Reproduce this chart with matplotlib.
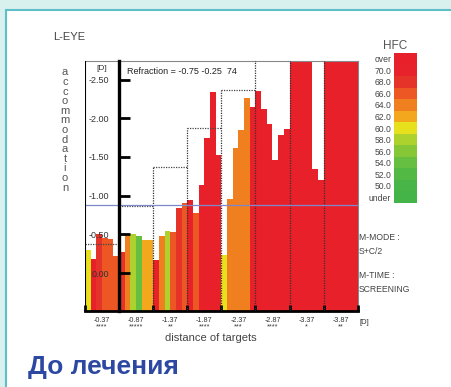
import matplotlib
matplotlib.use('Agg')
import matplotlib.pyplot as plt
import numpy as np
from matplotlib.colors import ListedColormap, BoundaryNorm
from matplotlib.patches import Rectangle
import matplotlib.colorbar as mcolorbar

plt.rcParams['font.family'] = ['Liberation Sans', 'DejaVu Sans']

# ---------------- data ----------------
target_labels = ['-0.37', '-0.87', '-1.37', '-1.87', '-2.37', '-2.87', '-3.37', '-3.87']
target_stars = ['****', '*****', '**', '****', '***', '****', '*', '**']
targets = [0.37, 0.87, 1.37, 1.87, 2.37, 2.87, 3.37, 3.87]
refraction_se = 0.875

# accommodation (D, shown as negative values) - 6 measurements per target
acc_g1 = [0.30, 0.18, 0.51, 0.45, 0.44, 0.22]
acc_g2 = [0.27, 0.51, 0.51, 0.48, 0.43, 0.43]
acc_g3 = [0.17, 0.48, 0.55, 0.53, 0.84, 0.90]
acc_g4 = [0.94, 0.77, 1.14, 1.75, 2.34, 1.52]
acc_g5 = [0.23, 0.96, 1.61, 1.85, 2.26, 2.14]
acc_g6 = [2.35, 2.12, 1.93, 1.46, 1.78, 1.86]
acc_g7 = [3.00, 3.00, 3.00, 3.00, 1.35, 1.20]
acc_g8 = [3.00, 3.00, 3.00, 3.00, 3.00, 3.00]

# HFC value per bar (72 = over)
hfc_g1 = [60, 72, 68, 66, 66, 66]
hfc_g2 = [68, 64, 58, 54, 62, 62]
hfc_g3 = [72, 64, 58, 66, 68, 66]
hfc_g4 = [72, 66, 72, 72, 72, 72]
hfc_g5 = [60, 64, 64, 64, 64, 72]
hfc_g6 = [72, 72, 72, 72, 72, 72]
hfc_g7 = [72, 72, 72, 72, 72, 72]
hfc_g8 = [72, 72, 72, 72, 72, 72]

hfc_levels = [48, 50, 52, 54, 56, 58, 60, 62, 64, 66, 68, 70, 72]
hfc_labels = ['under', '50.0', '52.0', '54.0', '56.0', '58.0', '60.0',
              '62.0', '64.0', '66.0', '68.0', '70.0', 'over']
hfc_colors = ['#44b449', '#47b548', '#52b945', '#66bf40', '#86c737', '#aed22d',
              '#e7e01c', '#f3a71d', '#f07f20', '#ec5724', '#e5332a', '#e8222a', '#e8202a']

acc = np.concatenate([acc_g1, acc_g2, acc_g3, acc_g4, acc_g5, acc_g6, acc_g7, acc_g8])
hfc = np.concatenate([hfc_g1, hfc_g2, hfc_g3, hfc_g4, hfc_g5, hfc_g6, hfc_g7, hfc_g8])

# ---------------- figure ----------------
W, H = 451, 387
fig = plt.figure(figsize=(W / 100, H / 100), dpi=100)
fig.patch.set_facecolor('#d8f1ee')
panel = Rectangle((6 / W, -0.05), 1.1, 1 - 10 / H + 0.05, transform=fig.transFigure,
                  facecolor='white', edgecolor='#5ebfc8', linewidth=1.5, zorder=-10)
fig.patches.append(panel)

ax = fig.add_axes([85 / W, 1 - 311 / H, (357.7 - 85) / W, (311 - 61) / H])
ax.set_facecolor('white')
ax.set_axisbelow(False)

ybot, ytop = -0.49, 2.74
n_per = 6
n_groups = len(targets)
n_bars = n_per * n_groups

cmap = ListedColormap(hfc_colors)
norm = BoundaryNorm(np.arange(47, 74, 2), cmap.N)

xs = np.arange(n_bars) + 0.5
ax.bar(xs, acc - ybot, bottom=ybot, width=1.0, color=cmap(norm(hfc)),
       edgecolor='none', zorder=2)

ax.set_xlim(0, n_bars)
ax.set_ylim(ybot, ytop)

# target boxes (dashed)
starts = np.arange(n_groups) * n_per
ax.hlines(targets, starts, starts + n_per, colors='#444444', linestyles=(0, (1, 1)),
          linewidth=0.9, zorder=3)
bounds = np.arange(n_groups + 1) * n_per
vtops = [max(targets[max(i - 1, 0)], targets[min(i, n_groups - 1)]) for i in range(n_groups + 1)]
ax.vlines(bounds[1:], ybot, vtops[1:], colors='#333333', linestyles=(0, (1, 1)),
          linewidth=0.9, zorder=3)

# refraction line
ax.axhline(refraction_se, color='#7f88c9', linewidth=0.9, zorder=4)

# y axis in the middle (at first boundary)
ax.spines['left'].set_position(('data', n_per))
ax.spines['left'].set_linewidth(2.4)
ax.spines['left'].set_color('black')
ax.spines['left'].set_zorder(5)
ax.spines['bottom'].set_linewidth(2.0)
ax.spines['bottom'].set_color('black')
for s in ['top', 'right']:
    ax.spines[s].set_linewidth(0.8)
    ax.spines[s].set_color('#888888')
ax.axvline(0, color='black', linewidth=1.5, zorder=5)

yt = [0, 0.5, 1.0, 1.5, 2.0, 2.5]
ax.set_yticks(yt)
ax.set_yticklabels(['0.00' if v == 0 else '-%.2f' % v for v in yt])
ax.tick_params(axis='y', direction='in', length=8, width=2, pad=7,
               labelsize=6.5, labelcolor='#333333')

ax.set_xticks(bounds)
ax.set_xticklabels([])
ax.tick_params(axis='x', which='major', direction='in', length=4, width=2)
ax.set_xticks(starts + n_per / 2, minor=True)
ax.set_xticklabels([l + '\n' + s for l, s in zip(target_labels, target_stars)], minor=True,
                   fontsize=5.2, color='#333333', linespacing=1.0)
ax.tick_params(axis='x', which='minor', length=0, pad=4)

# texts
fig.text(102 / W, 1 - 68 / H, '[D]', fontsize=6, color='#333333', ha='center', va='center')
fig.text(127 / W, 1 - 71 / H, 'Refraction = -0.75 -0.25  74', fontsize=6.5,
         color='#222222', ha='left', va='center')
fig.text(53 / W, 1 - 37 / H, 'L-EYE', fontsize=8, color='#444444', ha='left', va='center')
fig.text(65 / W, 1 - 130 / H, '\n'.join('accommodation'), fontsize=8, color='#555555',
         ha='center', va='center', linespacing=0.95)
fig.text(211 / W, 1 - 338 / H, 'distance of targets', fontsize=8, color='#444444',
         ha='center', va='center')
fig.text(360 / W, 1 - 322 / H, '[D]', fontsize=5.5, color='#333333', ha='left', va='center')
fig.text(359 / W, 1 - 237 / H, 'M-MODE :', fontsize=6.2, color='#444444', ha='left', va='center')
fig.text(359 / W, 1 - 251 / H, 'S+C/2', fontsize=6.2, color='#444444', ha='left', va='center')
fig.text(359 / W, 1 - 275 / H, 'M-TIME :', fontsize=6.2, color='#444444', ha='left', va='center')
fig.text(359 / W, 1 - 290 / H, 'SCREENING', fontsize=6.2, color='#444444', ha='left', va='center')
fig.text(28 / W, 1 - 367 / H, 'До лечения', fontsize=19, fontweight='bold',
         color='#2d48a3', ha='left', va='center')

# HFC colour bar
cax = fig.add_axes([394 / W, 1 - 203 / H, 23 / W, 150 / H])
cb = mcolorbar.ColorbarBase(cax, cmap=cmap, norm=norm, orientation='vertical',
                            ticks=hfc_levels)
cb.set_ticklabels(hfc_labels)
cb.outline.set_visible(False)
cax.minorticks_off()
cax.yaxis.set_ticks_position('left')
cax.tick_params(which='both', length=0, pad=2, labelsize=6.2, labelcolor='#444444')
fig.text(395 / W, 1 - 46 / H, 'HFC', fontsize=8.5, color='#555555', ha='center', va='center')

fig.savefig('out.png', dpi=100, facecolor=fig.get_facecolor())
